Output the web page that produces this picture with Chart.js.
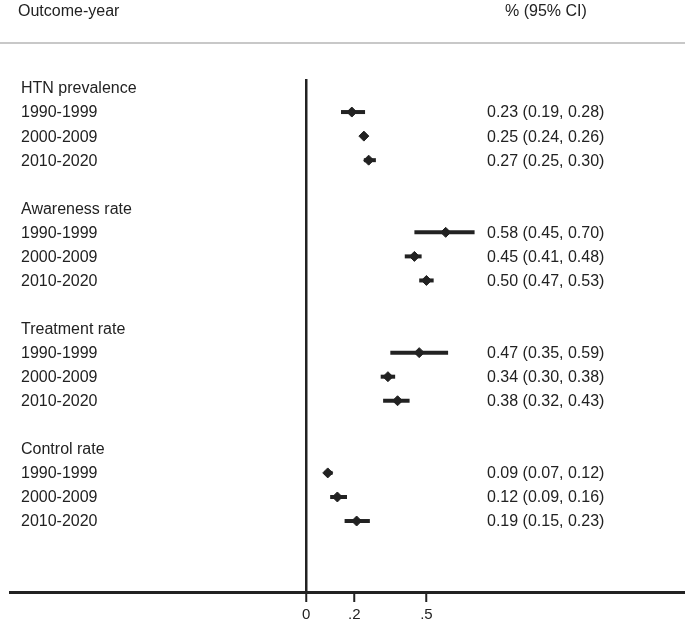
<!DOCTYPE html>
<html>
<head>
<meta charset="utf-8">
<script src="https://cdn.jsdelivr.net/npm/chart.js@4/dist/chart.umd.min.js"></script>
<style>
  html, body { margin: 0; background: #fff; overflow: hidden; }
  canvas { display: block; }
</style>
</head>
<body>
<canvas id="myChart" width="690" height="626"></canvas>
<script>
// groups and periods (rows of the forest plot)
var groups = ["HTN prevalence", "Awareness rate", "Treatment rate", "Control rate"];
var periods = ["1990-1999", "2000-2009", "2010-2020"];

// point estimates and CI ends as drawn, one list per group
var htnEst = [0.19, 0.24, 0.26];
var htnLow = [0.145, 0.235, 0.24];
var htnHigh = [0.245, 0.25, 0.29];

var awareEst = [0.58, 0.45, 0.50];
var awareLow = [0.45, 0.41, 0.47];
var awareHigh = [0.70, 0.48, 0.53];

var treatEst = [0.47, 0.34, 0.38];
var treatLow = [0.35, 0.31, 0.32];
var treatHigh = [0.59, 0.37, 0.43];

var controlEst = [0.09, 0.13, 0.21];
var controlLow = [0.075, 0.10, 0.16];
var controlHigh = [0.11, 0.17, 0.265];

// text column on the right
var htnText = ["0.23 (0.19, 0.28)", "0.25 (0.24, 0.26)", "0.27 (0.25, 0.30)"];
var awareText = ["0.58 (0.45, 0.70)", "0.45 (0.41, 0.48)", "0.50 (0.47, 0.53)"];
var treatText = ["0.47 (0.35, 0.59)", "0.34 (0.30, 0.38)", "0.38 (0.32, 0.43)"];
var controlText = ["0.09 (0.07, 0.12)", "0.12 (0.09, 0.16)", "0.19 (0.15, 0.23)"];

// x axis ticks
var tickValues = [0, 0.2, 0.5];
var tickLabels = ["0", ".2", ".5"];

var est = [htnEst, awareEst, treatEst, controlEst];
var low = [htnLow, awareLow, treatLow, controlLow];
var high = [htnHigh, awareHigh, treatHigh, controlHigh];
var ciText = [htnText, awareText, treatText, controlText];

var FONT = "'Liberation Sans', Arial, sans-serif";
var INK = "#222";

function headerRow(g) {
  return g * 5;
}

function buildDatasets() {
  var sets = [];
  var points = [];
  for (var g = 0; g < groups.length; g++) {
    for (var p = 0; p < periods.length; p++) {
      var row = headerRow(g) + 1 + p;
      sets.push({
        data: [{x: low[g][p], y: row}, {x: high[g][p], y: row}],
        showLine: true,
        borderColor: INK,
        borderWidth: 4,
        pointRadius: 0
      });
      points.push({x: est[g][p], y: row});
    }
  }
  sets.push({
    data: points,
    pointStyle: "rectRot",
    pointRadius: 5,
    backgroundColor: INK,
    borderColor: INK,
    borderWidth: 1
  });
  return sets;
}

var textPlugin = {
  id: "forestText",
  afterDraw: function(chart) {
    var ctx = chart.ctx;
    var y = chart.scales.y;
    ctx.save();
    ctx.fillStyle = INK;
    ctx.font = "16px " + FONT;
    ctx.textBaseline = "middle";
    ctx.textAlign = "left";

    ctx.fillText("Outcome-year", 18, 12);
    ctx.fillText("% (95% CI)", 505, 12);

    ctx.strokeStyle = "#c8c8c8";
    ctx.lineWidth = 2;
    ctx.beginPath();
    ctx.moveTo(0, 43);
    ctx.lineTo(690, 43);
    ctx.stroke();

    for (var g = 0; g < groups.length; g++) {
      ctx.fillText(groups[g], 21, y.getPixelForValue(headerRow(g)) + 1);
      for (var p = 0; p < periods.length; p++) {
        var py = y.getPixelForValue(headerRow(g) + 1 + p);
        ctx.fillText(periods[p], 21, py + 1);
        ctx.fillText(ciText[g][p], 487, py + 1);
      }
    }
    ctx.restore();
  }
};

function printChart() {
  var ctx = document.getElementById("myChart").getContext("2d");
  var myChart = new Chart(ctx, {
    type: "scatter",
    data: { datasets: buildDatasets() },
    plugins: [textPlugin],
    options: {
      responsive: false,
      animation: false,
      layout: { padding: { top: 79, left: 10, right: 0, bottom: 0 } },
      plugins: { legend: { display: false }, tooltip: { enabled: false } },
      scales: {
        x: {
          type: "linear",
          min: -1.23,
          max: 1.57,
          afterBuildTicks: function(scale) {
            scale.ticks = tickValues.map(function(v) { return {value: v}; });
          },
          afterFit: function(scale) {
            scale.height = 34;
          },
          grid: {
            color: function(c) {
              return c.tick && c.tick.value === 0 ? INK : "rgba(0,0,0,0)";
            },
            lineWidth: 2.5,
            drawTicks: true,
            tickLength: 10,
            tickColor: INK,
            tickWidth: 2
          },
          border: { display: true, color: INK, width: 3 },
          ticks: {
            color: INK,
            padding: 4,
            font: { family: FONT, size: 15 },
            autoSkip: false,
            maxRotation: 0,
            callback: function(v) {
              var i = tickValues.indexOf(v);
              return i >= 0 ? tickLabels[i] : "";
            }
          }
        },
        y: {
          type: "linear",
          display: false,
          reverse: true,
          min: -0.374,
          max: 20.95
        }
      }
    }
  });
}

function init() {
  printChart();
}
document.addEventListener("DOMContentLoaded", init);
</script>
</body>
</html>
